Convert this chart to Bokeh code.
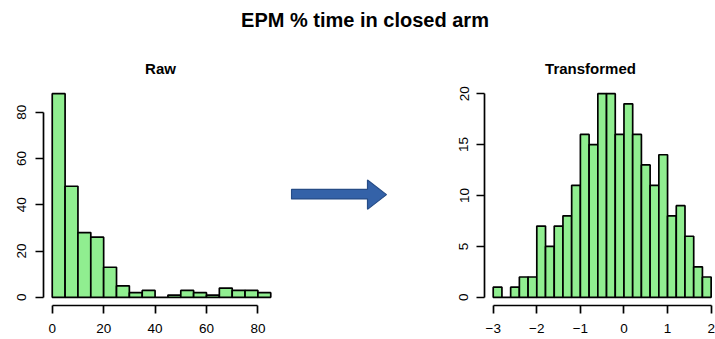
from bokeh.plotting import figure
from bokeh.models import Range1d, FixedTicker, Label
from bokeh.layouts import column, row
from bokeh.embed import file_html
from bokeh.resources import INLINE

# ---- data ----
main_title = "EPM % time in closed arm"
raw_title = "Raw"
trans_title = "Transformed"

raw_breaks = [0, 5, 10, 15, 20, 25, 30, 35, 40, 45, 50, 55, 60, 65, 70, 75, 80, 85]
raw_counts = [88, 48, 28, 26, 13, 5, 2, 3, 0, 1, 3, 2, 1, 4, 3, 3, 2]
raw_xticks = [0, 20, 40, 60, 80]
raw_yticks = [0, 20, 40, 60, 80]

trans_breaks = [-3.0, -2.8, -2.6, -2.4, -2.2, -2.0, -1.8, -1.6, -1.4, -1.2, -1.0,
                -0.8, -0.6, -0.4, -0.2, 0.0, 0.2, 0.4, 0.6, 0.8, 1.0,
                1.2, 1.4, 1.6, 1.8, 2.0]
trans_counts = [1, 0, 1, 2, 2, 7, 5, 7, 8, 11, 16, 15, 20, 20, 16, 19, 16, 13, 11, 14,
                8, 9, 6, 3, 2]
trans_xticks = [-3, -2, -1, 0, 1, 2]
trans_xlabels = {-3: "\u22123", -2: "\u22122", -1: "\u22121", 0: "0", 1: "1", 2: "2"}
trans_yticks = [0, 5, 10, 15, 20]

# decorative arrow outline (panel pixel space, measured from panel top)
arrow_x = [1, 77, 77, 96, 77, 77, 1]
arrow_y = [120, 120, 109, 126, 143, 131, 131]

FONT = "Liberation Sans"
BAR_FILL = "#90EE90"
HEAD_H = 85
ROW_H = 254
LW = 1.7


def style_axes(p, xticks, yticks, xbounds, ybounds, xlabels=None, ylab_standoff=8):
    p.xaxis.ticker = FixedTicker(ticks=xticks)
    p.yaxis.ticker = FixedTicker(ticks=yticks)
    p.xaxis.bounds = xbounds
    p.yaxis.bounds = ybounds
    if xlabels:
        p.xaxis.major_label_overrides = xlabels
    for ax in (p.xaxis[0], p.yaxis[0]):
        ax.axis_line_color = "black"
        ax.axis_line_width = LW
        ax.major_tick_line_color = "black"
        ax.major_tick_line_width = LW
        ax.major_tick_out = 8
        ax.major_tick_in = 0
        ax.minor_tick_line_color = None
        ax.major_label_text_font = FONT
        ax.major_label_text_font_size = "13.5px"
        ax.major_label_text_color = "black"
    p.xaxis.major_label_standoff = 10
    p.yaxis.major_label_standoff = ylab_standoff
    p.yaxis.major_label_orientation = "vertical"
    p.xgrid.visible = False
    p.ygrid.visible = False
    p.outline_line_color = None


def hist_panel(width, breaks, counts, xr, yr, mb_left, mb_right):
    p = figure(width=width, height=ROW_H, x_range=Range1d(*xr), y_range=Range1d(*yr),
               output_backend="svg", toolbar_location=None,
               min_border_left=mb_left, min_border_right=mb_right,
               min_border_top=0, min_border_bottom=34)
    p.quad(left=breaks[:-1], right=breaks[1:], bottom=0, top=counts,
           fill_color=BAR_FILL, line_color="black", line_width=LW)
    return p


# header with titles (pixel space)
header = figure(width=715, height=HEAD_H, x_range=Range1d(0, 715), y_range=Range1d(HEAD_H, 0),
                output_backend="svg", toolbar_location=None,
                x_axis_location=None, y_axis_location=None,
                min_border=0, outline_line_color=None)
header.xgrid.visible = False
header.ygrid.visible = False
header.add_layout(Label(x=364.5, y=19, text=main_title, text_font=FONT,
                        text_font_size="20px", text_font_style="bold",
                        text_align="center", text_baseline="middle", text_color="black"))
header.add_layout(Label(x=160, y=68, text=raw_title, text_font=FONT,
                        text_font_size="15px", text_font_style="bold",
                        text_align="center", text_baseline="middle", text_color="black"))
header.add_layout(Label(x=590, y=68, text=trans_title, text_font=FONT,
                        text_font_size="15px", text_font_style="bold",
                        text_align="center", text_baseline="middle", text_color="black"))

left = hist_panel(290, raw_breaks, raw_counts, (-3.4, 88.4), (-3.52, 91.52), 43, 11)
style_axes(left, raw_xticks, raw_yticks, (0, 80), (0, 80), ylab_standoff=9)

mid = figure(width=140, height=ROW_H, x_range=Range1d(0, 140), y_range=Range1d(ROW_H, 0),
             output_backend="svg", toolbar_location=None,
             x_axis_location=None, y_axis_location=None,
             min_border=0, outline_line_color=None)
mid.xgrid.visible = False
mid.ygrid.visible = False
mid.patch(arrow_x, arrow_y, fill_color="#3462A8", line_color="#264C86", line_width=1.2)

right = hist_panel(285, trans_breaks, trans_counts, (-3.2, 2.1), (-0.8, 20.8), 54, 0)
style_axes(right, trans_xticks, trans_yticks, (-3, 2), (0, 20), xlabels=trans_xlabels,
           ylab_standoff=8)

root = column(header, row(left, mid, right, spacing=0), spacing=0)

open("out.html", "w").write(file_html(root, INLINE))
